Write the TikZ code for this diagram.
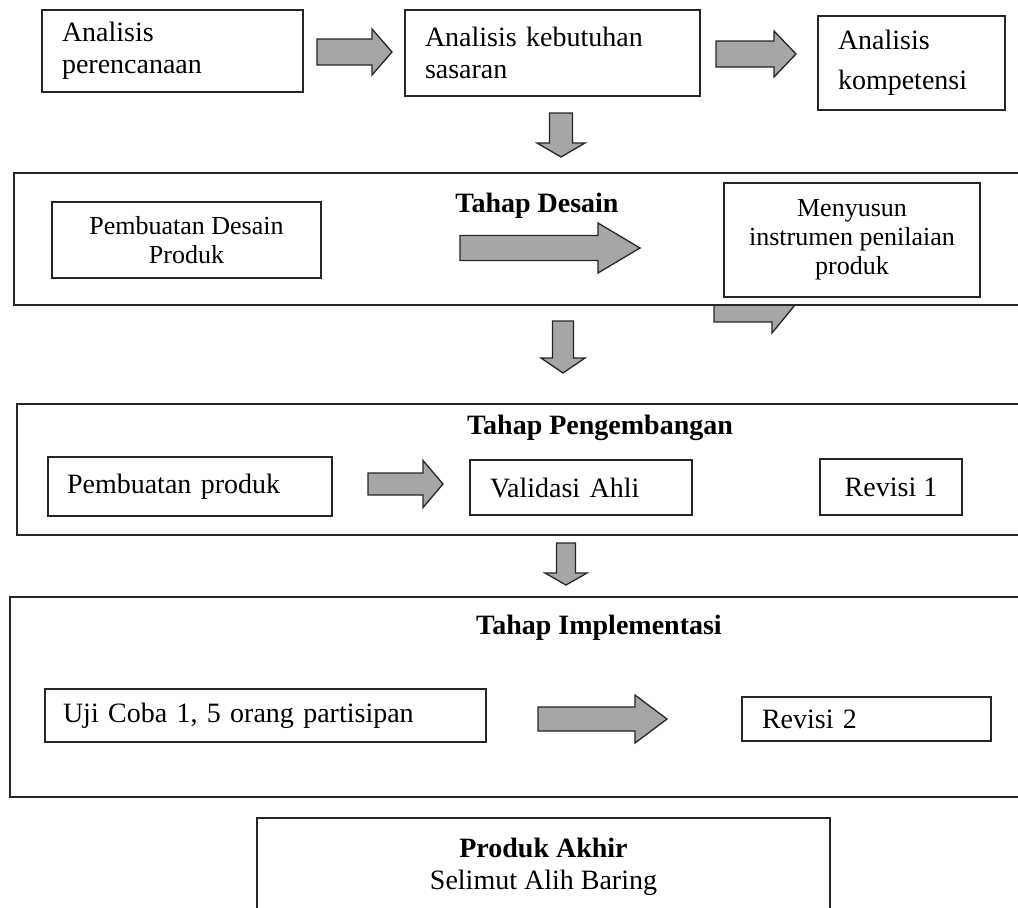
\documentclass[tikz,border=0pt]{standalone}
\usepackage{fontspec}
\setmainfont{Liberation Serif}
\usetikzlibrary{positioning}
% right block arrow: x from, x to, y centre, body half, head half, head length
\newcommand{\rblock}[6]{%
  \draw[blockarrow] (#1,#3-#4) -- (#2-#6,#3-#4) -- (#2-#6,#3-#5) -- (#2,#3)
    -- (#2-#6,#3+#5) -- (#2-#6,#3+#4) -- (#1,#3+#4) -- cycle;}
% down block arrow: x centre, y from, y to, body half, head half, head length
\newcommand{\dblock}[6]{%
  \draw[blockarrow] (#1-#4,#2) -- (#1-#4,#3-#6) -- (#1-#5,#3-#6) -- (#1,#3)
    -- (#1+#5,#3-#6) -- (#1+#4,#3-#6) -- (#1+#4,#2) -- cycle;}

\begin{document}
\begin{tikzpicture}[x=1pt,y=-1pt]
	\tikzset{
		box/.style={draw=black!85, line width=1.3pt, fill=white, inner sep=0pt,
			font=\fontsize{28}{32}\selectfont},
		small/.style={font=\fontsize{26}{29}\selectfont},
		title/.style={font=\fontsize{28}{32}\selectfont\bfseries, inner sep=0pt},
		blockarrow/.style={draw=black!85, line width=1.3pt, fill=black!35, line join=miter},
	}
	\clip (0,0) rectangle (1018,908);

	% analisis
	\node[box, minimum width=261pt, minimum height=82pt, text width=221pt, align=left]
		(perencanaan) at (172.5,51) {Analisis\\perencanaan};
	\node[box, minimum width=295pt, minimum height=86pt, text width=255pt, align=left]
		(sasaran) at (552.5,53) {Analisis kebutuhan\\sasaran};
	\node[box, minimum width=187pt, minimum height=94pt, text width=147pt, align=left]
		(kompetensi) at (911.5,63) {Analisis\\[8pt]kompetensi};
	\rblock{317}{392}{52}{13}{23}{20}
	\rblock{716}{796}{54}{13}{23}{22}
	\dblock{561}{113}{157}{11.5}{24}{14}

	% desain
	\rblock{714}{795}{305}{17}{28}{23}
	\node[box, minimum width=1016pt, minimum height=132pt] (desain) at (522,239) {};
	\node[title] (tdesain) at (537,206) {Tahap Desain};
	\node[box, small, minimum width=269pt, minimum height=76pt, align=center]
		(produkdesain) at (186.5,240) {Pembuatan Desain\\Produk};
	\node[box, small, minimum width=256pt, minimum height=114pt, align=center]
		(instrumen) at (852,240) {Menyusun\\instrumen penilaian\\produk};
	\rblock{460}{640}{248}{12.5}{25}{42}
	\dblock{563}{321}{373}{10.5}{22}{15}

	% pengembangan
	\node[box, minimum width=1013pt, minimum height=131pt] (pengembangan) at (523.5,469.5) {};
	\node[title] (tpengembangan) at (600,428) {Tahap Pengembangan};
	\node[box, minimum width=284pt, minimum height=59pt, text width=246pt, align=left]
		(produk) at (190,486.5) {Pembuatan produk};
	\node[box, minimum width=222pt, minimum height=55pt, text width=182pt, align=left]
		(validasi) at (581,487.5) {Validasi Ahli};
	\node[box, minimum width=142pt, minimum height=56pt, align=center]
		(revisi1) at (891,487) {Revisi 1};
	\rblock{368}{443}{484}{11}{23.5}{20}
	\dblock{566}{543}{585}{9.5}{21}{12}

	% implementasi
	\node[box, minimum width=1020pt, minimum height=200pt] (implementasi) at (520,697) {};
	\node[title] (timplementasi) at (599,628) {Tahap Implementasi};
	\node[box, minimum width=441pt, minimum height=53pt, text width=405pt, align=left]
		(ujicoba) at (265.5,715.5) {Uji Coba 1, 5 orang partisipan};
	\node[box, minimum width=249pt, minimum height=44pt, text width=209pt, align=left]
		(revisi2) at (866.5,719) {Revisi 2};
	\rblock{538}{667}{719}{12}{24}{32}

	% akhir
	\node[box, minimum width=573pt, minimum height=97pt, align=center]
		(akhir) at (543.5,866.5) {\textbf{Produk Akhir}\\Selimut Alih Baring};
\end{tikzpicture}
\end{document}
